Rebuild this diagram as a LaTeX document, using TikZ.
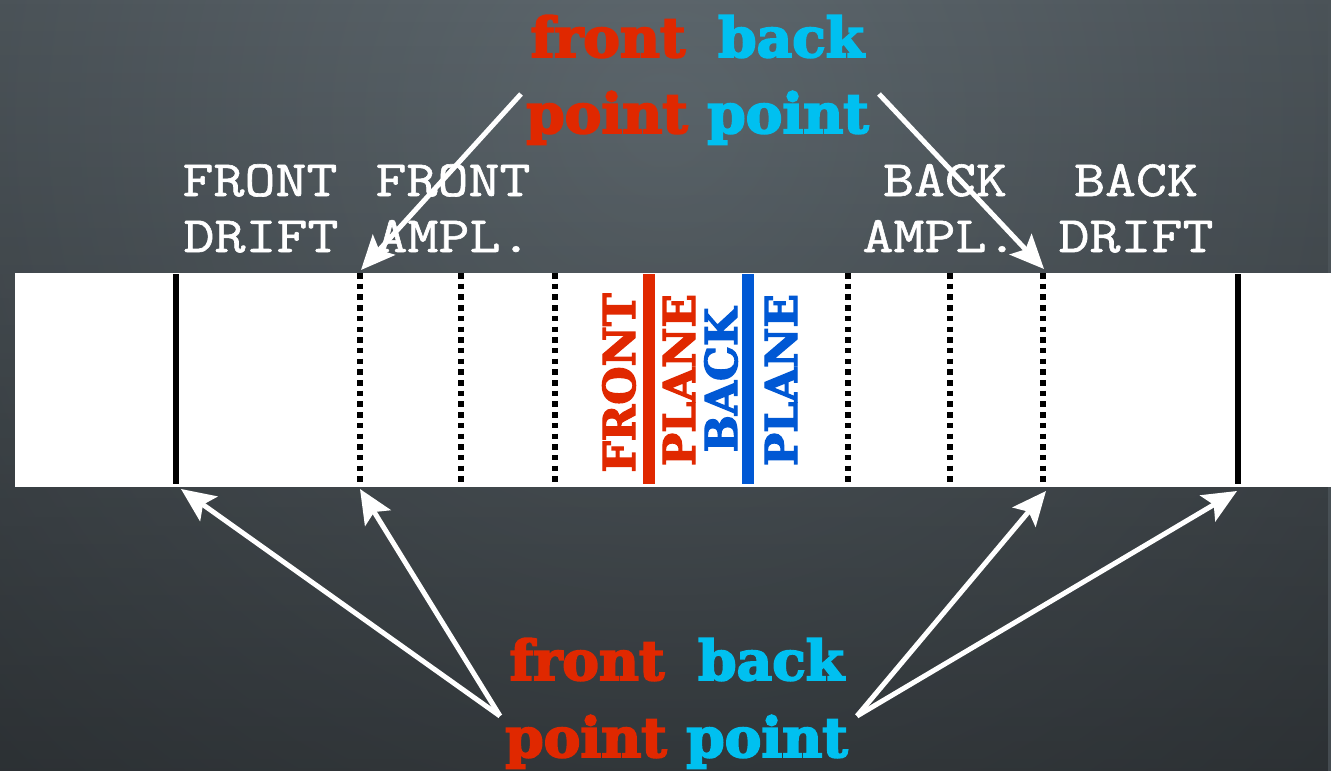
\documentclass[tikz,border=0pt]{standalone}
\usepackage{fontspec}
\usetikzlibrary{arrows.meta,fadings}
\newfontfamily\typefont{Latin Modern Mono}[FakeStretch=1.18, FakeBold=1.2]
\newfontfamily\slabfont{DejaVu Serif Bold}[FakeBold=3.5]
\newfontfamily\planefont{DejaVu Serif Bold}[FakeBold=3]
\definecolor{bgin}{RGB}{94,104,110}
\definecolor{bgout}{RGB}{40,44,48}
\definecolor{fred}{RGB}{224,40,0}
\definecolor{bcyan}{RGB}{0,192,240}
\definecolor{pblue}{RGB}{0,88,212}
\tikzset{
  bigword/.style={font=\slabfont\fontsize{55}{60}\selectfont, anchor=base, inner sep=0pt},
  label/.style={font=\typefont\fontsize{51}{55}\selectfont, text=white, anchor=base, inner sep=0pt},
  planeword/.style={font=\planefont\fontsize{44}{48}\selectfont, anchor=base, inner sep=0pt, rotate=90},
  arr/.style={white, line width=5pt, -{Stealth[length=34pt,width=30pt,inset=7pt]}},
  solidline/.style={black, line width=6pt},
  dotline/.style={black, line width=5.5pt, dash pattern=on 5.5pt off 5.2pt},
}
\begin{document}
\begin{tikzpicture}[x=1pt,y=-1pt]
\useasboundingbox (0,0) rectangle (1331,771);
\begin{scope}
  \clip (0,0) rectangle (1331,771);
  \fill[bgout] (0,0) rectangle (1331,771);
  \shade[inner color=bgin, outer color=bgout] (665,120) circle (1900pt);
  \fill[black, opacity=0.35, path fading=north] (0,0) rectangle (1331,771);
\end{scope}
% band
\fill[white] (15,273) rectangle (1331,487);
% lines
\draw[solidline] (176,274) -- (176,484);
\draw[solidline] (1238,274) -- (1238,484);
\foreach \xx in {360,461,555,848,950,1043}
  \draw[dotline] (\xx,273) -- (\xx,484);
\draw[fred, line width=12pt] (649,274) -- (649,484);
\draw[pblue, line width=12pt] (748,274) -- (748,484);
% plane words
\node[planeword, text=fred] (fp1) at (635,383) {FRONT};
\node[planeword, text=fred] (fp2) at (695,380) {PLANE};
\node[planeword, text=pblue] (bp1) at (737,380) {BACK};
\node[planeword, text=pblue] (bp2) at (797,380) {PLANE};
% labels
\node[label] (fd1) at (260,196) {FRONT};
\node[label] (fd2) at (261,252) {DRIFT};
\node[label] (fa1) at (453,196) {FRONT};
\node[label] (fa2) at (454,252) {AMPL.};
\node[label] (ba1) at (945,196) {BACK};
\node[label] (ba2) at (940,252) {AMPL.};
\node[label] (bd1) at (1136,196) {BACK};
\node[label] (bd2) at (1136,252) {DRIFT};
% top words
\node[bigword, text=fred] (tf) at (608,57) {front};
\node[bigword, text=bcyan] (tb) at (791,57) {back};
\node[bigword, text=fred] (tp1) at (607,133) {point};
\node[bigword, text=bcyan] (tp2) at (788,133) {point};
% bottom words
\node[bigword, text=fred] (bf) at (587,680) {front};
\node[bigword, text=bcyan] (bb) at (771,680) {back};
\node[bigword, text=fred] (bpa) at (586,757) {point};
\node[bigword, text=bcyan] (bpb) at (767,757) {point};
% arrow coordinates
\coordinate (t1) at (521,94);
\coordinate (t2) at (879,94);
\coordinate (b1) at (500,716);
\coordinate (b2) at (857,716);
\coordinate (h1) at (361,270);
\coordinate (h2) at (1044,269);
\coordinate (h3) at (181,489);
\coordinate (h4) at (360,489);
\coordinate (h5) at (1046,491);
\coordinate (h6) at (1237,491);
\draw[arr] (t1) -- (h1);
\draw[arr] (t2) -- (h2);
\draw[arr] (b1) -- (h3);
\draw[arr] (b1) -- (h4);
\draw[arr] (b2) -- (h5);
\draw[arr] (b2) -- (h6);
\end{tikzpicture}
\end{document}
